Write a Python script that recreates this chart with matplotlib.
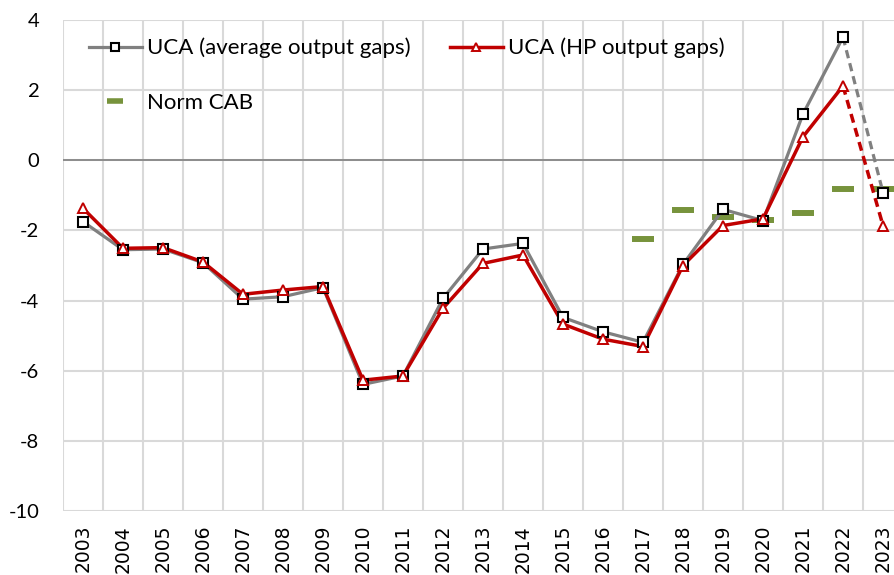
import numpy as np
import matplotlib
matplotlib.use("Agg")
import matplotlib.pyplot as plt
from matplotlib.lines import Line2D

# Данные
years = [str(y) for y in range(2003, 2024)]
uca_avg = [-1.75, -2.55, -2.53, -2.92, -3.96, -3.89, -3.63, -6.39, -6.15, -3.94, -2.53,
           -2.37, -4.48, -4.89, -5.19, -2.97, -1.40, -1.72, 1.32, 3.51, -0.92]
uca_hp = [-1.37, -2.51, -2.49, -2.90, -3.82, -3.70, -3.60, -6.27, -6.15, -4.22, -2.94,
          -2.70, -4.67, -5.10, -5.31, -3.00, -1.86, -1.67, 0.67, 2.12, -1.86]
norm_years = ["2017", "2018", "2019", "2020", "2021", "2022", "2023"]
norm_cab = [-2.25, -1.41, -1.61, -1.70, -1.51, -0.81, -0.81]

# Цвета
gray = "#808080"
red = "#C00000"
green = "#77933C"
grid_col = "#D9D9D9"

plt.rcParams['font.family'] = ['Lato', 'DejaVu Sans']
plt.rcParams['axes.unicode_minus'] = False

fig = plt.figure(figsize=(8.94, 5.75), dpi=100)
ax = fig.add_axes([63 / 894, 1 - 511 / 575, 840 / 894, 491 / 575])

x = np.arange(len(years))
xn = np.array([years.index(y) for y in norm_years])

# Сплошные участки до 2022, пунктир 2022-2023
dash = (0, (2.6, 1.6))
ax.plot(x[:-1], uca_avg[:-1], color=gray, lw=2.3, zorder=3)
ax.plot(x[-2:], uca_avg[-2:], color=gray, lw=2.3, ls=dash, zorder=3)
ax.plot(x, uca_avg, ls="none", marker="s", ms=7, mfc="white", mec="black", mew=1.5, zorder=5)

ax.plot(x[:-1], uca_hp[:-1], color=red, lw=2.5, zorder=4)
ax.plot(x[-2:], uca_hp[-2:], color=red, lw=2.5, ls=dash, zorder=4)
ax.plot(x, uca_hp, ls="none", marker="^", ms=6.5, mfc="white", mec=red, mew=1.4, zorder=6)

ax.plot(xn, norm_cab, ls="none", marker="_", ms=16.5, mew=4.3, color=green, zorder=2)

ax.axhline(0, color=gray, lw=1.2, zorder=1)

# Оси и сетка
ax.set_xlim(-0.5, len(years) - 0.5)
ax.set_ylim(-10, 4)
ax.set_yticks(range(-10, 5, 2))
ax.set_xticks(x)
ax.set_xticklabels(years, rotation=90, fontsize=13.5, family=['DejaVu Sans'])
ax.set_xticks(np.arange(-0.5, len(years), 1), minor=True)
ax.grid(axis="y", which="major", color=grid_col, lw=1.5, zorder=0)
ax.grid(axis="x", which="minor", color=grid_col, lw=1.5, zorder=0)
ax.tick_params(axis="both", which="both", length=0)
ax.tick_params(axis="y", labelsize=14.5, pad=17)
ax.tick_params(axis="x", pad=10)
for s in ax.spines.values():
    s.set_visible(False)
ax.set_axisbelow(True)

# Легенда
h_avg = Line2D([], [], color=gray, lw=2.3, marker="s", ms=6, mfc="white", mec="black", mew=1.5)
h_hp = Line2D([], [], color=red, lw=2.5, marker="^", ms=5.5, mfc="white", mec=red, mew=1.4)
h_norm = Line2D([], [], ls="none", marker="_", ms=11, mew=4, color=green)
ax.legend([h_avg, h_norm, h_hp], ["UCA (average output gaps)", "Norm CAB", "UCA (HP output gaps)"],
          ncol=2, loc="upper left", bbox_to_anchor=(0.0, 1.016), frameon=False, fontsize=16,
          handlelength=2.4, handletextpad=0.23, labelspacing=1.56, columnspacing=1.75,
          borderaxespad=0.75)

fig.savefig("out.png", dpi=100)
